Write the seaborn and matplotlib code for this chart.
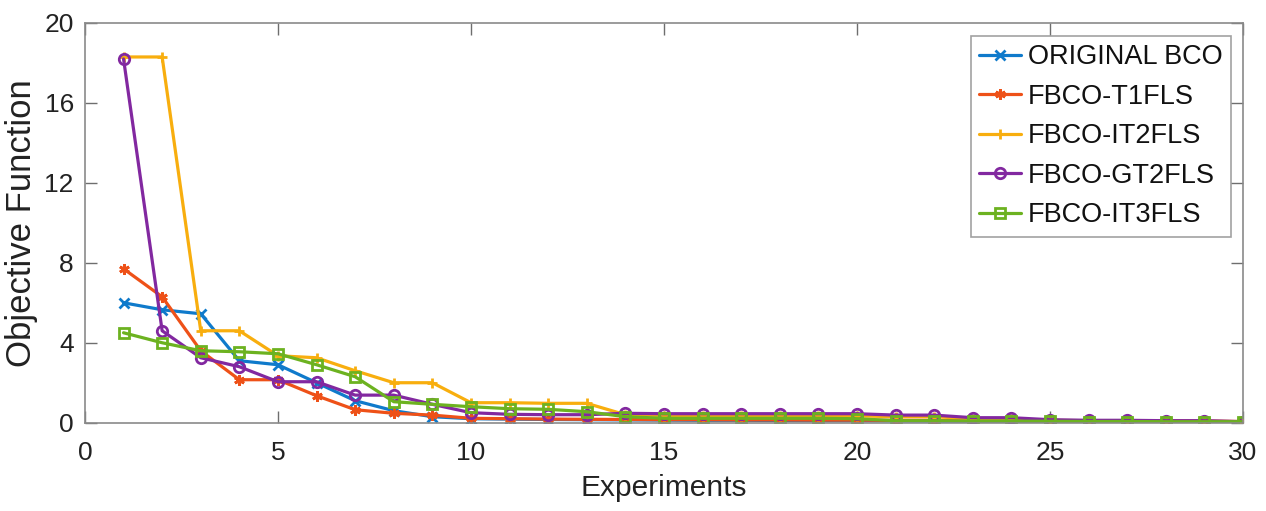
import numpy as np
import pandas as pd
import matplotlib
matplotlib.use("Agg")
import matplotlib.pyplot as plt
import seaborn as sns

experiments = list(range(1, 31))

original_bco = [6.0, 5.65, 5.45, 3.1, 2.9, 2.0, 1.1, 0.6, 0.3, 0.2, 0.18, 0.16, 0.15, 0.14, 0.13,
                0.12, 0.12, 0.11, 0.1, 0.1, 0.09, 0.08, 0.07, 0.07, 0.06, 0.06, 0.05, 0.05, 0.05, 0.04]
fbco_t1fls = [7.7, 6.3, 3.6, 2.15, 2.15, 1.35, 0.65, 0.47, 0.38, 0.22, 0.2, 0.18, 0.17, 0.16, 0.15,
              0.15, 0.14, 0.14, 0.13, 0.13, 0.12, 0.12, 0.11, 0.11, 0.1, 0.1, 0.09, 0.09, 0.08, 0.06]
fbco_it2fls = [18.3, 18.3, 4.6, 4.6, 3.35, 3.25, 2.6, 2.0, 2.0, 1.0, 1.0, 0.97, 0.97, 0.4, 0.36,
               0.36, 0.35, 0.35, 0.34, 0.34, 0.3, 0.3, 0.2, 0.18, 0.12, 0.1, 0.08, 0.08, 0.07, 0.05]
fbco_gt2fls = [18.2, 4.6, 3.25, 2.8, 2.05, 2.05, 1.38, 1.38, 0.92, 0.5, 0.42, 0.4, 0.4, 0.47, 0.45,
               0.45, 0.45, 0.45, 0.45, 0.45, 0.38, 0.38, 0.25, 0.25, 0.15, 0.12, 0.12, 0.1, 0.1, 0.05]
fbco_it3fls = [4.5, 4.0, 3.6, 3.55, 3.45, 2.9, 2.3, 1.05, 0.92, 0.8, 0.7, 0.67, 0.55, 0.3, 0.22,
               0.22, 0.22, 0.22, 0.22, 0.2, 0.1, 0.1, 0.08, 0.08, 0.07, 0.06, 0.06, 0.05, 0.05, 0.05]

series_names = ["ORIGINAL BCO", "FBCO-T1FLS", "FBCO-IT2FLS", "FBCO-GT2FLS", "FBCO-IT3FLS"]
series_values = [original_bco, fbco_t1fls, fbco_it2fls, fbco_gt2fls, fbco_it3fls]
colors = ["#0F7ACB", "#EE5118", "#F8AE0E", "#8228A0", "#6CB220"]
markers = ["x", (6, 2, 0), "+", "o", "s"]

x_ticks = [0, 5, 10, 15, 20, 25, 30]
y_ticks = [0, 4, 8, 12, 16, 20]

sns.set_theme(style="white")
plt.rcParams['font.family'] = ['Liberation Sans', 'DejaVu Sans']

fig = plt.figure(figsize=(12.66, 5.11), dpi=100)
ax = fig.add_axes([0.0671, 0.1728, 0.9147, 0.7822])

for name, vals, c, m in zip(series_names, series_values, colors, markers):
    df = pd.DataFrame({"Experiments": experiments, "Objective": vals})
    sns.lineplot(data=df, x="Experiments", y="Objective", ax=ax, color=c, linewidth=2.3,
                 marker=m, markersize=7.5, markerfacecolor="none", markeredgecolor=c,
                 markeredgewidth=2, label=name)

ax.set_xlim(0, 30)
ax.set_ylim(0, 20)
ax.set_xticks(x_ticks)
ax.set_yticks(y_ticks)
ax.tick_params(axis="both", which="both", direction="in", length=8.5, width=1, color="#6e6e6e",
               labelsize=19, top=True, right=True, bottom=True, left=True, labelcolor="#222222")
ax.tick_params(axis="y", pad=8)
ax.tick_params(axis="x", pad=13)
for s in ax.spines.values():
    s.set_color("#8a8a8a")
    s.set_linewidth(1.2)
ax.set_xlabel("Experiments", fontsize=21.5, labelpad=7, color="#222222")
ax.set_ylabel("Objective Function", fontsize=25, labelpad=5, color="#222222")

leg = ax.legend(loc="upper right", bbox_to_anchor=(0.9896, 0.967), fontsize=19.5, frameon=True,
                fancybox=False, edgecolor="#8a8a8a", handlelength=1.55, labelspacing=0.5,
                borderpad=0.3, handletextpad=0.25, borderaxespad=0.0)
leg.get_frame().set_linewidth(1.2)
for t in leg.get_texts():
    t.set_color("#111111")

fig.savefig("out.png", dpi=100)
